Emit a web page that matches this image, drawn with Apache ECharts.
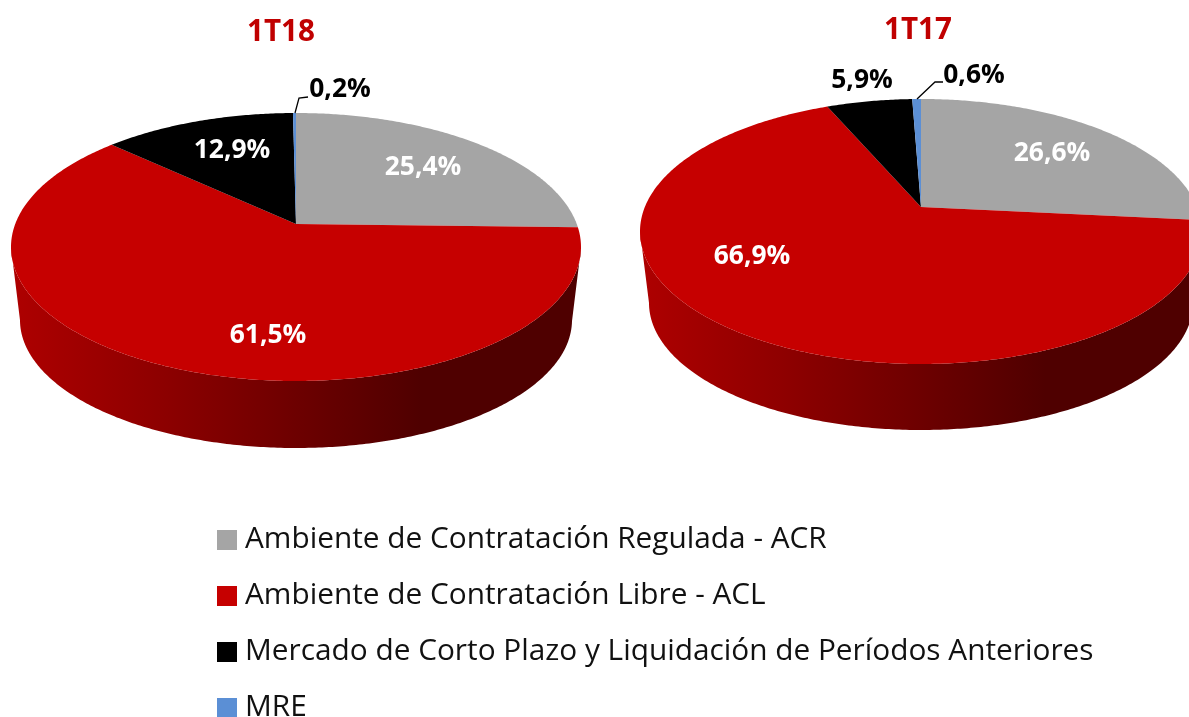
<!DOCTYPE html>
<html>
<head>
<meta charset="utf-8">
<style>html,body{margin:0;padding:0;background:#fff;overflow:hidden}#c{width:1189px;height:717px}</style>
<script src="https://cdn.jsdelivr.net/npm/echarts@6/dist/echarts.min.js"></script>
</head>
<body>
<div id="c"></div>
<script>
// ---- data ----
var categories = [
  'Ambiente de Contratación Regulada - ACR',
  'Ambiente de Contratación Libre - ACL',
  'Mercado de Corto Plazo y Liquidación de Períodos Anteriores',
  'MRE'
];
var periods = ['1T18', '1T17'];
var values1T18 = [25.4, 61.5, 12.9, 0.2];
var values1T17 = [26.6, 66.9, 5.9, 0.6];
var colors = ['#A5A5A5', '#C60000', '#000000', '#5B8FD5'];

// ---- layout (not data) ----
var FONT = '"Open Sans", sans-serif';
var pies = [
  {values: values1T18, cx: 296, cy: 247, rx: 285, ry: 134, apexY: 224, baseCy: 320, baseRx: 276, baseRy: 128},
  {values: values1T17, cx: 921, cy: 231.5, rx: 281, ry: 132.5, apexY: 207, baseCy: 303, baseRx: 272, baseRy: 127}
];
// label anchor offsets from the apex of each pie, by category
var labelOffsets = [
  [[127, -57], [-28, 111], [-64, -74], [44, -135]],
  [[131, -54], [-169, 49], [-59, -127], [53, -132]]
];
var labelColors = [
  ['#fff', '#fff', '#fff', '#000'],
  ['#fff', '#fff', '#000', '#000']
];
// leader line for thin slices: relative to apex
var leaders = [
  [null, null, null, [[-1, -111], [3, -126], [12, -127]]],
  [null, null, null, [[-4, -108], [14, -125], [22, -125]]]
];

// Perspective projection of a flat circle: the centre lands on the apex.
function project(pie, pct, rho) {
  var t = pct / 100 * 2 * Math.PI;
  var u = Math.sin(t) * rho, v = Math.cos(t) * rho;
  var p = (pie.cy - pie.apexY) / pie.ry;
  var d = 1 + p * v;
  return {nx: u * Math.sqrt(1 - p * p) / d, ny: (v + p) / d};
}
function shade(hex, k) {
  var n = parseInt(hex.slice(1), 16);
  var r = Math.round((n >> 16 & 255) * k), g = Math.round((n >> 8 & 255) * k), b = Math.round((n & 255) * k);
  return 'rgb(' + r + ',' + g + ',' + b + ')';
}

function renderItem(params, api) {
  var pieIdx = api.value(0), cat = params.seriesIndex, val = api.value(1);
  var pie = pies[pieIdx];
  var start = 0;
  for (var i = 0; i < cat; i++) start += pie.values[i];
  var steps = Math.max(4, Math.ceil(val * 6));
  var top = [], sideTop = [], sideBase = [];
  top.push([pie.cx, pie.apexY]);
  for (var s = 0; s <= steps; s++) {
    var q = project(pie, start + val * s / steps, 1);
    var x = pie.cx + q.nx * pie.rx, y = pie.cy - q.ny * pie.ry;
    top.push([x, y]);
    if (q.ny <= 0) {
      sideTop.push([x, y]);
      sideBase.unshift([pie.cx + q.nx * pie.baseRx, pie.baseCy - q.ny * pie.baseRy]);
    }
  }
  var color = colors[cat];
  var children = [];
  if (sideTop.length > 1) {
    children.push({
      type: 'polygon',
      shape: {points: sideTop.concat(sideBase)},
      style: {
        fill: new echarts.graphic.LinearGradient(0, 0, 1, 0, [
          {offset: 0, color: shade(color, 0.88)},
          {offset: 0.25, color: shade(color, 0.72)},
          {offset: 0.5, color: shade(color, 0.55)},
          {offset: 0.72, color: shade(color, 0.40)},
          {offset: 1, color: shade(color, 0.40)}
        ])
      }
    });
  }
  children.push({type: 'polygon', shape: {points: top}, style: {fill: color}});
  var lead = leaders[pieIdx][cat];
  if (lead) {
    children.push({
      type: 'polyline',
      shape: {points: lead.map(function (o) { return [pie.cx + o[0], pie.apexY + o[1]]; })},
      style: {stroke: '#000', lineWidth: 1.3, fill: null}
    });
  }
  var off = labelOffsets[pieIdx][cat];
  children.push({
    type: 'text',
    z2: 50,
    style: {
      text: val.toFixed(1).replace('.', ',') + '%',
      x: pie.cx + off[0], y: pie.apexY + off[1],
      align: 'center', verticalAlign: 'middle',
      fill: labelColors[pieIdx][cat],
      font: 'bold 26.4px ' + FONT
    }
  });
  return {type: 'group', children: children};
}

var chart = echarts.init(document.getElementById('c'), null, {renderer: 'canvas'});
chart.setOption({
  animation: false,
  backgroundColor: '#fff',
  title: [
    {text: periods[0], left: 276, top: 13, textAlign: 'center', textStyle: {color: '#C00000', fontFamily: FONT, fontWeight: 'bold', fontSize: 29.6}},
    {text: periods[1], left: 913, top: 11, textAlign: 'center', textStyle: {color: '#C00000', fontFamily: FONT, fontWeight: 'bold', fontSize: 29.6}}
  ],
  legend: {
    orient: 'vertical', left: 217, top: 522, height: 230,
    itemWidth: 20, itemHeight: 20, itemGap: 20, padding: 0,
    icon: 'rect',
    selectedMode: false,
    data: categories,
    textStyle: {fontFamily: FONT, fontSize: 29.8, color: '#111', padding: [0, 0, 0, 3], lineHeight: 36},
    formatter: function (n) { return n; }
  },
  series: categories.map(function (name, c) {
    return {
      type: 'custom',
      name: name,
      coordinateSystem: 'none',
      silent: true,
      itemStyle: {color: colors[c]},
      encode: {value: [1]},
      renderItem: renderItem,
      data: pies.map(function (p, i) { return [i, p.values[c]]; })
    };
  })
});
</script>
</body>
</html>
